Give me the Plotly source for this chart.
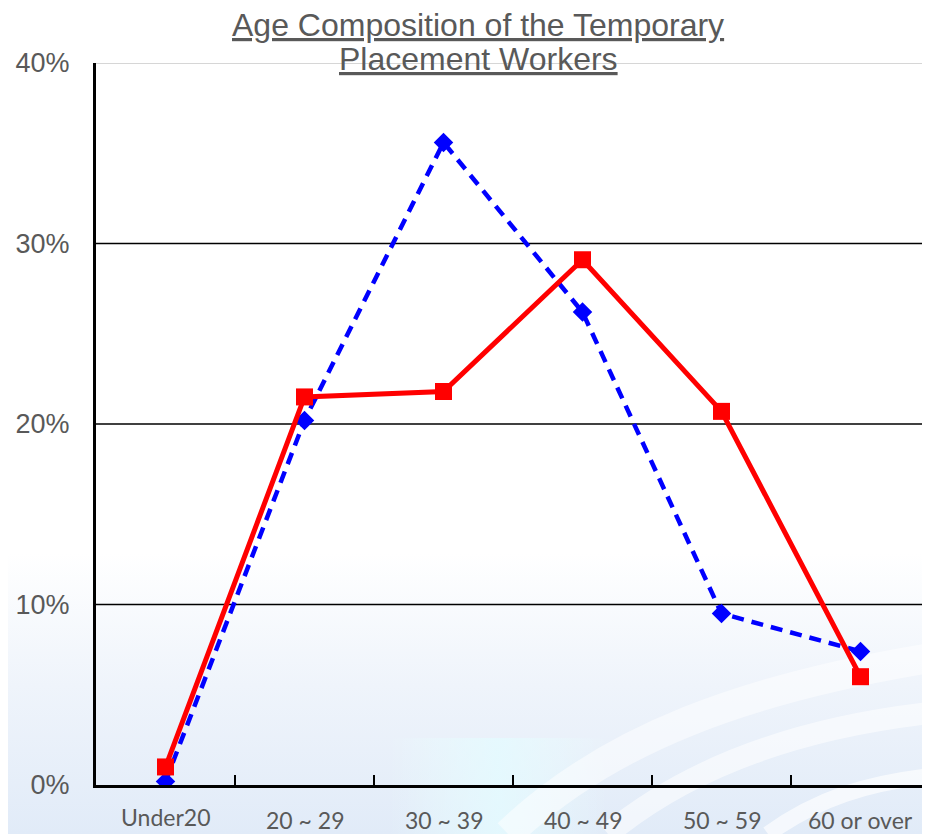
import base64
import plotly.graph_objects as go

categories = ["Under20", "20 ~ 29", "30 ~ 39", "40 ~ 49", "50 ~ 59", "60 or over"]
red_values = [1.0, 21.5, 21.8, 29.1, 20.7, 6.0]
blue_values = [0.2, 20.2, 35.6, 26.2, 9.5, 7.4]
y_ticks = [0, 10, 20, 30, 40]
black_grid = [10, 20, 30]
gray_grid = [40]
title_lines = ["Age Composition of the Temporary", "Placement Workers"]

# figure canvas (page body adds an 8px offset)
W, H = 922, 826
L, R, T, B = 88, 0, 55, 49
pw, ph = W - L - R, H - T - B

svg = f"""<svg xmlns='http://www.w3.org/2000/svg' width='{W}' height='{H}' viewBox='0 0 {W} {H}'>
<defs>
<linearGradient id='g' x1='0' y1='0' x2='0' y2='1'>
<stop offset='0' stop-color='#ffffff'/>
<stop offset='0.66' stop-color='#ffffff'/>
<stop offset='0.82' stop-color='#eff4fb'/>
<stop offset='1' stop-color='#e1ebf8'/>
</linearGradient>
<linearGradient id='c' x1='0' y1='0' x2='1' y2='0'>
<stop offset='0' stop-color='#eaffff' stop-opacity='0'/>
<stop offset='0.5' stop-color='#e4fbff' stop-opacity='0.8'/>
<stop offset='1' stop-color='#eaffff' stop-opacity='0'/>
</linearGradient>
</defs>
<rect width='{W}' height='{H}' fill='url(#g)'/>
<rect x='380' y='730' width='220' height='100' fill='url(#c)'/>
<path d='M500 826 C 600 730, 740 680, 922 650' stroke='#ffffff' stroke-opacity='0.5' stroke-width='30' fill='none'/>
<path d='M600 826 C 680 760, 790 720, 922 705' stroke='#ffffff' stroke-opacity='0.55' stroke-width='22' fill='none'/>
<path d='M760 826 C 810 790, 860 775, 922 768' stroke='#ffffff' stroke-opacity='0.65' stroke-width='16' fill='none'/>
</svg>"""
bg_src = "data:image/svg+xml;base64," + base64.b64encode(svg.encode()).decode()

fig = go.Figure()

fig.add_trace(go.Scatter(
    x=categories, y=blue_values, mode="lines+markers",
    line=dict(color="#0000ff", width=4.5, dash="12px,8px"),
    marker=dict(symbol="diamond", size=15, color="#0000ff"),
    showlegend=False, hoverinfo="skip",
))
fig.add_trace(go.Scatter(
    x=categories, y=red_values, mode="lines+markers",
    line=dict(color="#ff0000", width=5),
    marker=dict(symbol="square", size=17, color="#ff0000"),
    showlegend=False, hoverinfo="skip",
))

shapes = []
for v in black_grid:
    shapes.append(dict(type="line", xref="paper", yref="y", x0=0, x1=1, y0=v, y1=v,
                       line=dict(color="#000000", width=1.5), layer="below"))
for v in gray_grid:
    shapes.append(dict(type="line", xref="paper", yref="y", x0=0, x1=1, y0=v, y1=v,
                       line=dict(color="#c8c8c8", width=1.5), layer="below"))

title_font = dict(family="Liberation Sans, Arial, sans-serif", size=32, color="#595959")
title_y_px = [17, 51]  # line centres, px from top of canvas
annotations = []
for line, ypx in zip(title_lines, title_y_px):
    annotations.append(dict(
        text=f"<u>{line}</u>", xref="paper", yref="paper",
        x=(470 - L) / pw, y=(H - B - ypx) / ph,
        xanchor="center", yanchor="middle", showarrow=False, font=title_font,
    ))

# category labels under the axis (first label sits a little higher, as in the original)
label_font = dict(family="Lato, Noto Sans, sans-serif", size=23, color="#595959")
for i, cat in enumerate(categories):
    annotations.append(dict(
        text=cat, xref="x", yref="paper", x=cat, y=0,
        yshift=-(32 if i == 0 else 35), borderpad=0,
        xanchor="center", yanchor="middle", showarrow=False, font=label_font,
    ))

fig.update_layout(
    width=W, height=H,
    margin=dict(l=L, r=R, t=T, b=B, pad=0),
    paper_bgcolor="#ffffff",
    plot_bgcolor="rgba(0,0,0,0)",
    shapes=shapes,
    annotations=annotations,
    images=[dict(source=bg_src, xref="paper", yref="paper",
                 x=-L / pw, y=1 + T / ph, sizex=W / pw, sizey=H / ph,
                 xanchor="left", yanchor="top", sizing="stretch", layer="below")],
    xaxis=dict(
        type="category", range=[-0.5, 5.5],
        showline=True, linecolor="#000000", linewidth=3,
        ticks="inside", tickson="boundaries", ticklen=10, tickwidth=1.5, tickcolor="#000000",
        showgrid=False, zeroline=False, showticklabels=False,
        fixedrange=True,
    ),
    yaxis=dict(
        range=[0, 40], tickvals=y_ticks, ticktext=[f"{v}%" for v in y_ticks],
        showline=True, linecolor="#000000", linewidth=3,
        ticks="", showgrid=False, zeroline=False,
        tickfont=dict(family="Liberation Sans, Arial, sans-serif", size=27, color="#595959"),
        ticklabelstandoff=18,
        fixedrange=True,
    ),
)

fig.write_html("out.html")
